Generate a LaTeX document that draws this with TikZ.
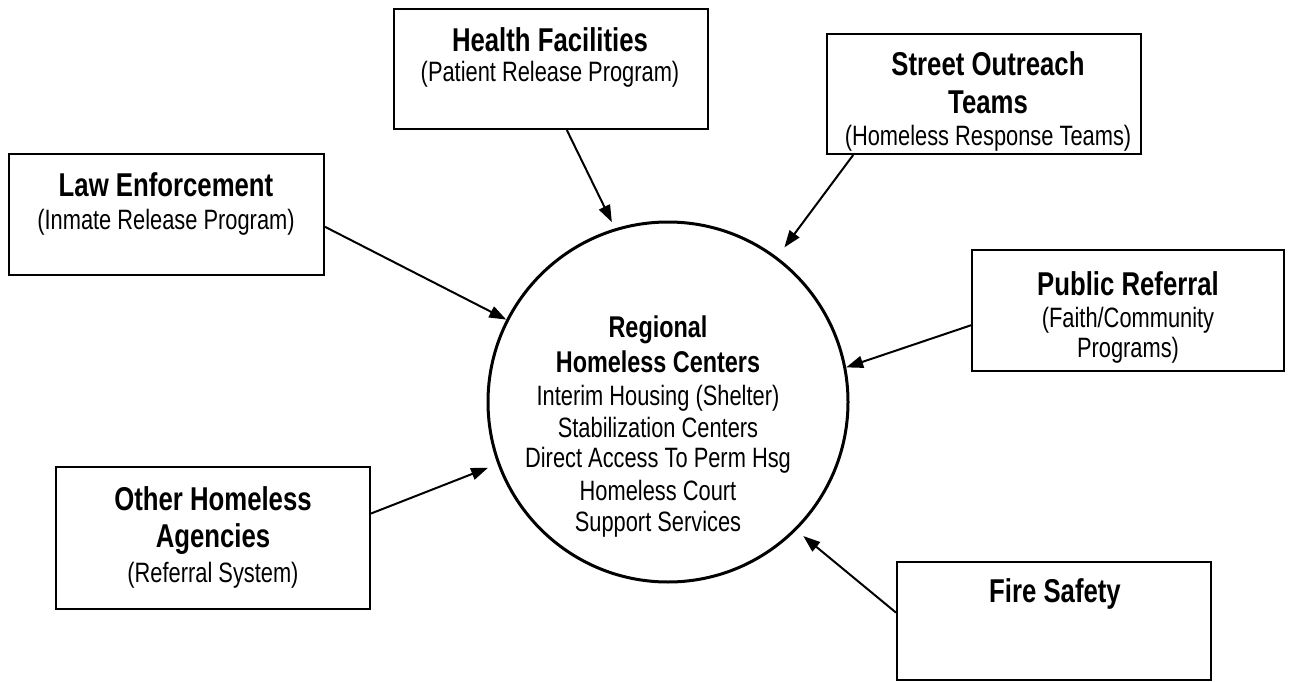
\documentclass[tikz,border=0pt]{standalone}
\usepackage{fontspec}
\setmainfont{Liberation Sans}[FakeStretch=0.78]
\usetikzlibrary{arrows.meta,calc}
\begin{document}
\begin{tikzpicture}[x=1pt,y=-1pt,
  box/.style={draw, line width=2pt, rectangle, anchor=north west, inner sep=0pt},
  hd/.style={anchor=base, inner sep=0pt, font=\fontsize{33}{36}\selectfont\bfseries},
  chd/.style={anchor=base, inner sep=0pt, font=\fontsize{30}{34}\selectfont\bfseries},
  tx/.style={anchor=base, inner sep=0pt, font=\fontsize{28}{32}\selectfont},
  arr/.style={-{Triangle[length=17pt,width=12pt]}, line width=2pt}]
\useasboundingbox[fill=white] (0,0) rectangle (1290,682);

% boxes
\node[box, minimum width=314pt, minimum height=120pt] (hf) at (393,8) {};
\node[box, minimum width=314pt, minimum height=120pt] (so) at (826,33) {};
\node[box, minimum width=315pt, minimum height=121pt] (le) at (8,153) {};
\node[box, minimum width=312pt, minimum height=121pt] (pr) at (971,249) {};
\node[box, minimum width=314pt, minimum height=142pt] (oh) at (55,466) {};
\node[box, minimum width=314pt, minimum height=118pt] (fs) at (896,561) {};

% centre circle
\node[circle, draw, line width=3pt, minimum size=360pt, inner sep=0pt] (c) at (668,402) {};

% box texts
\node[hd] (hf1) at (550,52) {Health Facilities};
\node[tx] (hf2) at (550,82) {(Patient Release Program)};
\node[hd] (so1) at (988,76) {Street Outreach};
\node[hd] (so2) at (988,114) {Teams};
\node[tx] (so3) at (988,146) {(Homeless Response Teams)};
\node[hd] (le1) at (166,196) {Law Enforcement};
\node[tx] (le2) at (166,229) {(Inmate Release Program)};
\node[hd] (pr1) at (1128,295) {Public Referral};
\node[tx] (pr2) at (1128,327) {(Faith/Community};
\node[tx] (pr3) at (1128,357) {Programs)};
\node[hd] (oh1) at (213,510) {Other Homeless};
\node[hd] (oh2) at (213,547) {Agencies};
\node[tx] (oh3) at (213,582) {(Referral System)};
\node[hd] (fs1) at (1055,602) {Fire Safety};

% circle texts
\node[chd] (c1) at (658,337) {Regional};
\node[chd] (c2) at (658,372) {Homeless Centers};
\node[tx] (c3) at (658,405) {Interim Housing (Shelter)};
\node[tx] (c4) at (658,437) {Stabilization Centers};
\node[tx] (c5) at (658,467) {Direct Access To Perm Hsg};
\node[tx] (c6) at (658,500) {Homeless Court};
\node[tx] (c7) at (658,531) {Support Services};

% arrows
\draw[arr, shorten >=7pt] ($(hf.south west)!0.55!(hf.south east)$) -- (c.107);
\draw[arr, shorten >=12pt] ($(so.south west)!0.086!(so.south east)$) -- (c.53);
\draw[arr] ($(le.north east)!0.6!(le.south east)$) -- (c.153);
\draw[arr] ($(pr.north west)!0.62!(pr.south west)$) -- (c.11);
\draw[arr, shorten >=10pt] ($(oh.north east)!0.33!(oh.south east)$) -- (c.200);
\draw[arr, shorten >=9pt] ($(fs.north west)!0.43!(fs.south west)$) -- (c.-45);
\end{tikzpicture}
\end{document}
